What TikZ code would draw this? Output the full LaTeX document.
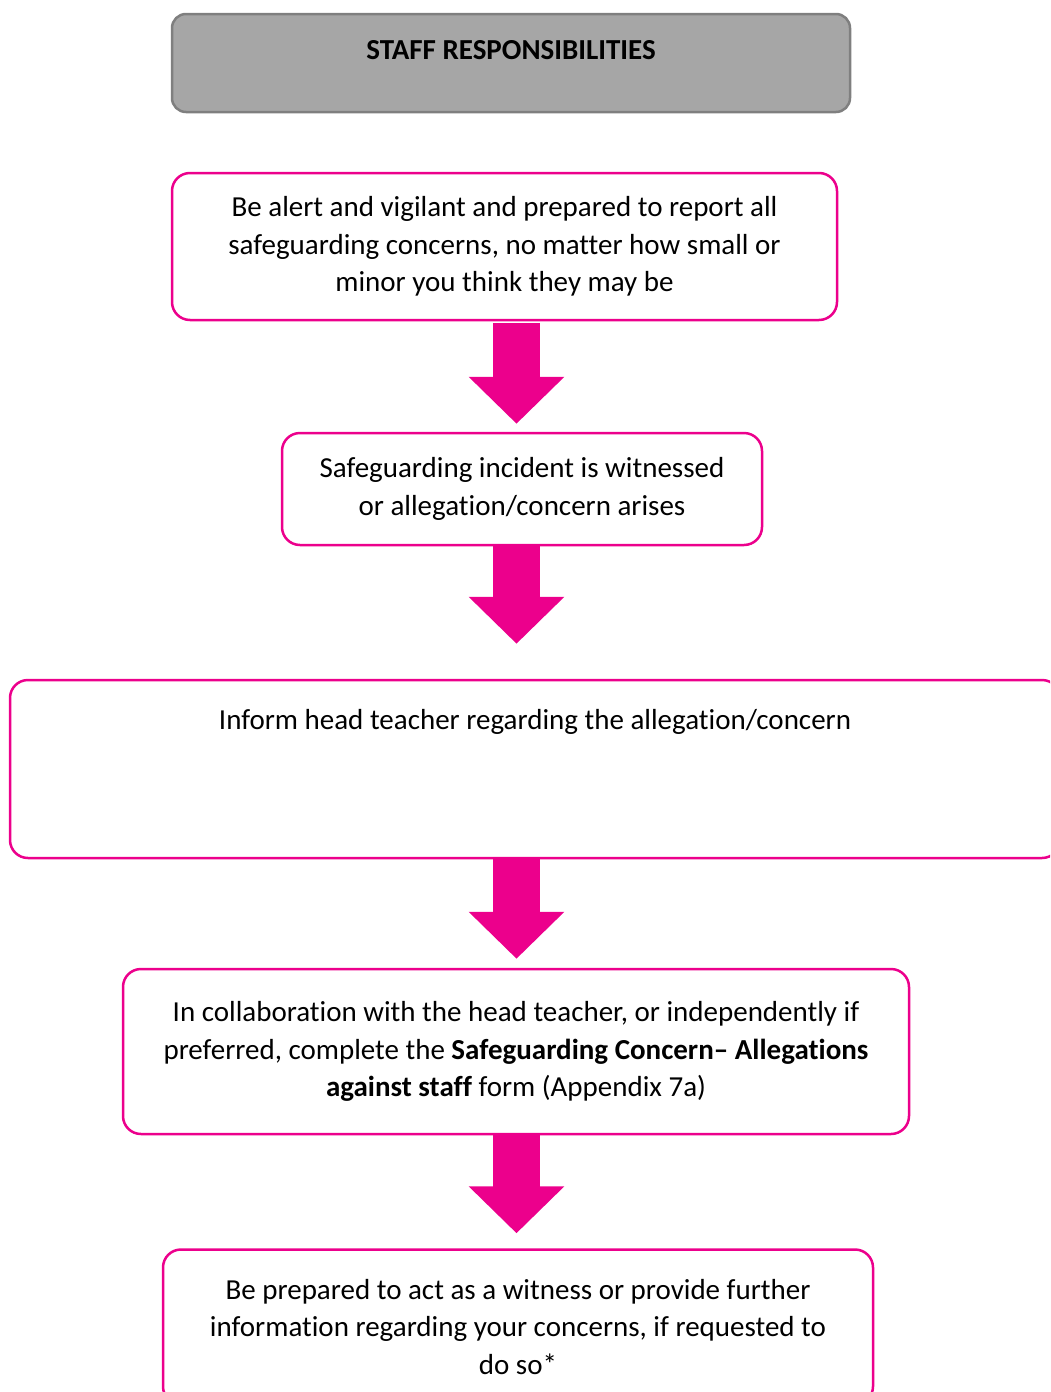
\documentclass[tikz,border=0pt]{standalone}
\usepackage{fontspec}
\setmainfont{Carlito}[Ligatures=NoCommon]
\usetikzlibrary{arrows.meta,positioning}
\definecolor{cmag}{HTML}{EC008C}
\definecolor{cgrey}{HTML}{A6A6A6}
\definecolor{cgreyline}{HTML}{7F7F7F}
\tikzset{
  hdrbox/.style={rectangle, rounded corners=14pt, draw=cgreyline, fill=cgrey, line width=2.5pt,
                 align=center, font=\fontsize{29}{34}\selectfont\bfseries},
  box/.style={rectangle, rounded corners=18pt, draw=cmag, fill=white, line width=2.5pt,
              align=center, font=\fontsize{29}{37.5}\selectfont},
  flow/.style={line width=47pt, draw=cmag, fill=cmag, -{Triangle[length=47pt,width=93pt]}}
}
\begin{document}
\begin{tikzpicture}[x=1pt,y=-1pt]
\useasboundingbox (0,0) rectangle (1050,1392);
\clip (0,0) rectangle (1050,1392);
\coordinate (axis) at (516.5,0);
\node[hdrbox, minimum width=678pt, minimum height=98pt, text height=20pt, text depth=27pt] (hdr) at (511,63) {STAFF RESPONSIBILITIES};
\node[box, minimum width=665pt, minimum height=147pt] (alert) at (504.5,246.5)
  {Be alert and vigilant and prepared to report all\\safeguarding concerns, no matter how small or\\minor you think they may be};
\node[box, minimum width=480pt, minimum height=112pt] (witness) at (522,489)
  {Safeguarding incident is witnessed\\or allegation/concern arises};
\node[box, minimum width=1050pt, minimum height=178pt, text height=21pt, text depth=101pt] (inform) at (535,769)
  {Inform head teacher regarding the allegation/concern};
\node[box, minimum width=786pt, minimum height=165pt] (form) at (516,1051.5)
  {In collaboration with the head teacher, or independently if\\preferred, complete the \textbf{Safeguarding Concern\textendash{} Allegations}\\\textbf{against staff} form (Appendix 7a)};
\node[box, minimum width=710pt, minimum height=155pt] (further) at (518,1327)
  {Be prepared to act as a witness or provide further\\information regarding your concerns, if requested to\\do so*};
\draw[flow, shorten <=2pt, shorten >=8pt] (alert.south -| axis) -- (witness.north -| axis);
\draw[flow, shorten >=35pt] (witness.south -| axis) -- (inform.north -| axis);
\draw[flow, shorten >=9pt] (inform.south -| axis) -- (form.north -| axis);
\draw[flow, shorten >=15pt] (form.south -| axis) -- (further.north -| axis);
\end{tikzpicture}
\end{document}
